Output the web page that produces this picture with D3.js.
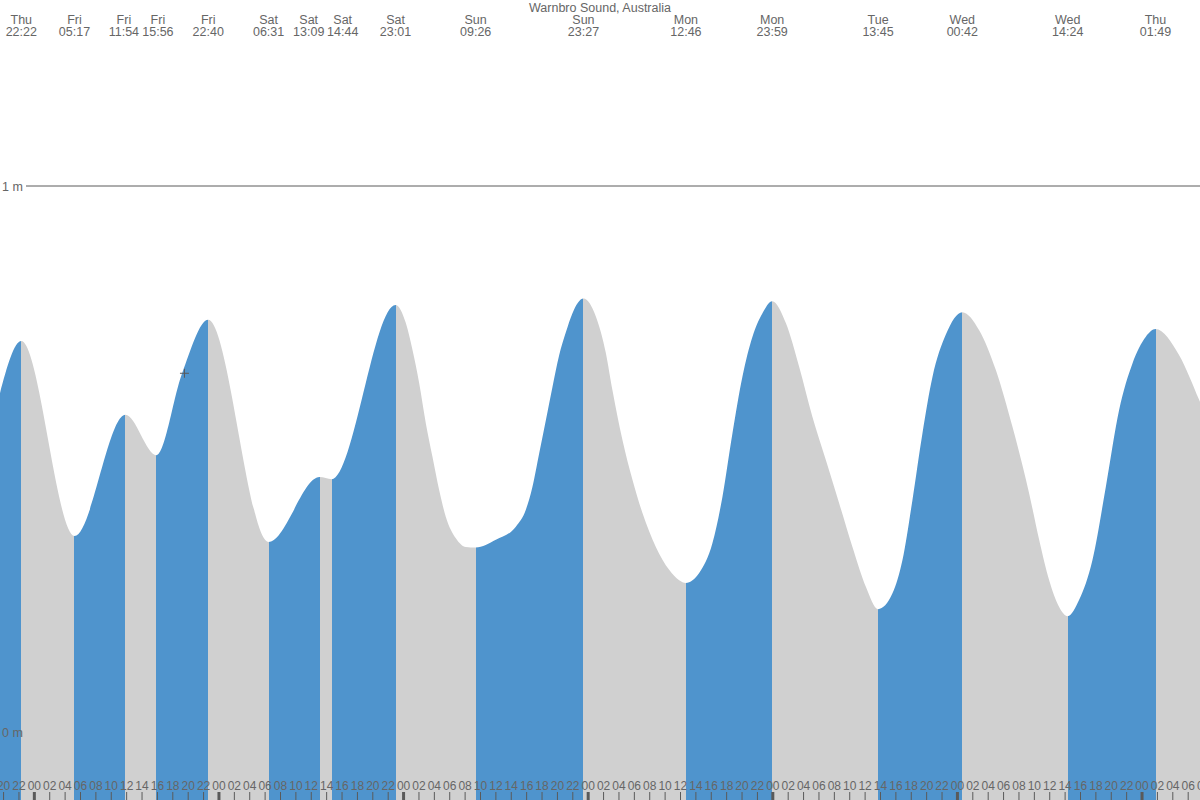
<!DOCTYPE html>
<html><head><meta charset="utf-8">
<script src="https://cdn.jsdelivr.net/npm/d3@7/dist/d3.min.js"></script>
<style>
body{margin:0;background:#fff}
svg{display:block}
text{font-family:"Liberation Sans",Arial,sans-serif}
</style>
</head><body>
<svg id="chart" width="1200" height="800"></svg>
<script>
// ---------- data ----------
const title = "Warnbro Sound, Australia";
// tide extremes: day, local clock time, height (m)
const extremeDays   = ["Thu","Fri","Fri","Fri","Fri","Sat","Sat","Sat","Sat","Sun","Sun","Mon","Mon","Tue","Wed","Wed","Thu"];
const extremeClock  = ["22:22","05:17","11:54","15:56","22:40","06:31","13:09","14:44","23:01","09:26","23:27","12:46","23:59","13:45","00:42","14:24","01:49"];
const extremeHeights= [0.716,0.359,0.581,0.507,0.755,0.348,0.467,0.463,0.782,0.338,0.794,0.273,0.789,0.225,0.769,0.212,0.738];
// intermediate curve samples: hours after Fri 00:00, height (m)
const sampleHours   = [-4.5, 19.28,
  48.36,49.22,50.09,50.96,51.82,52.69,53.56,54.86,56.16,
  60.06,62.66,63.96,64.82,65.69,66.56,67.42,68.29,69.16,70.02,
  73.06,74.36,75.22,76.52,77.82,79.12,80.86,82.59,83.89,
  86.49,88.22,89.52,90.82,92.12,93.42,94.72,
  97.76,99.49,101.22,102.96,104.69,106.42,108.16,
  111.62,112.92,114.22,115.52,116.82,118.56,
  122.89,125.06,127.22,129.39,130.69,131.99,133.29,
  135.89,137.62,139.36,141.09,142.82,144.56,
  148.89,151.5,152.2];
const sampleHeights = [0.615, 0.657,
  0.749,0.700,0.639,0.565,0.504,0.443,0.394,0.355,0.339,
  0.352,0.376,0.407,0.449,0.510,0.571,0.632,0.690,0.732,0.767,
  0.761,0.694,0.626,0.535,0.462,0.401,0.339,0.297,0.278,
  0.291,0.346,0.431,0.547,0.651,0.724,0.767,
  0.749,0.669,0.577,0.498,0.419,0.339,0.266,
  0.254,0.315,0.425,0.547,0.650,0.728,
  0.736,0.663,0.559,0.437,0.352,0.278,0.229,
  0.242,0.315,0.449,0.590,0.675,0.724,
  0.690,0.608,0.585];
const hourDomain = [-4.4, 151.6];      // Thu 19:36 .. Thu 07:36
const yTickValues = [0, 1];
const yTickLabels = ["0 m", "1 m"];
const cursorPoint = {t: 19.58, h: 0.657};

// ---------- layout ----------
const W = 1200, H = 800;
const svg = d3.select("#chart");
const x = d3.scaleLinear().domain(hourDomain).range([0, W]);
const y = d3.scaleLinear().domain([0, 1]).range([732, 186]);
const BLUE = "#4f94cd", GREY = "#d0d0d0", INK = "#5a5a5a";

// compute extreme hours relative to Fri 00:00
let dayIdx = -1, prev = extremeDays[0];
const extremes = extremeDays.map((d, i) => {
  if (d !== prev) { dayIdx++; prev = d; }
  const [hh, mm] = extremeClock[i].split(":").map(Number);
  return {day: d, clock: extremeClock[i], t: dayIdx * 24 + hh + mm / 60, h: extremeHeights[i]};
});
const points = extremes.map(e => ({t: e.t, h: e.h}))
  .concat(sampleHours.map((t, i) => ({t, h: sampleHeights[i]})))
  .sort((a, b) => a.t - b.t);

// 1 m reference line
svg.append("line").attr("x1", 26).attr("x2", W)
  .attr("y1", y(1)).attr("y2", y(1)).attr("stroke", INK).attr("stroke-width", 1);

// area clip
const area = d3.area().x(d => x(d.t)).y0(H).y1(d => y(d.h)).curve(d3.curveMonotoneX);
svg.append("clipPath").attr("id", "tideClip").append("path").attr("d", area(points));

// segments: rising = blue, falling = grey
const bounds = [hourDomain[0] - 1].concat(extremes.map(e => e.t), [hourDomain[1] + 1]);
const segs = d3.pairs(bounds).map(([a, b], i) => {
  let rising;
  if (i === 0) rising = extremes[0].h > points[0].h;
  else if (i < extremes.length) rising = extremes[i].h > extremes[i - 1].h;
  else rising = false;
  return {a, b, rising};
});
svg.append("g").attr("clip-path", "url(#tideClip)")
  .selectAll("rect").data(segs).join("rect")
  .attr("x", d => x(d.a)).attr("width", d => x(d.b) - x(d.a))
  .attr("y", 0).attr("height", H)
  .attr("fill", d => d.rising ? BLUE : GREY)
  .attr("shape-rendering", "crispEdges");

// y labels
svg.append("g").selectAll("text").data(yTickValues).join("text")
  .attr("x", 2).attr("y", d => y(d) + 5)
  .attr("font-size", 12.5).attr("fill", "#666")
  .text((d, i) => yTickLabels[i]);

// bottom hour axis (labels continue just past the right edge)
const hourTicks = d3.range(Math.ceil(hourDomain[0] / 2) * 2, hourDomain[1] + 2, 2);
const pad = v => String(((v % 24) + 24) % 24).padStart(2, "0");
const axis = d3.axisBottom(x).tickValues(hourTicks).tickSize(-8).tickFormat(pad);
const ag = svg.append("g").attr("transform", `translate(0,${H})`).call(axis);
ag.select(".domain").remove();
ag.selectAll(".tick line").attr("stroke", INK)
  .attr("stroke-width", d => (((d % 24) + 24) % 24) === 0 ? 3 : 1);
ag.selectAll(".tick text").attr("y", -10).attr("dy", 0)
  .attr("fill", "#666").attr("font-size", 12)
  .attr("font-family", "'Liberation Sans', Arial, sans-serif");

// top extreme labels, spread apart where they would collide
const minGap = 34;
extremes.forEach(e => e.lx = x(e.t));
for (let i = 1; i < extremes.length; i++) {
  const gap = extremes[i].lx - extremes[i - 1].lx;
  if (gap < minGap) {
    const half = (minGap - gap) / 2;
    extremes[i - 1].lx -= half;
    extremes[i].lx += half;
  }
}
const lab = svg.append("g").attr("fill", "#666").attr("font-size", 12.5).attr("text-anchor", "middle");
lab.selectAll("text.day").data(extremes).join("text").attr("class", "day")
  .attr("x", d => d.lx).attr("y", 24).text(d => d.day);
lab.selectAll("text.clk").data(extremes).join("text").attr("class", "clk")
  .attr("x", d => d.lx).attr("y", 36).text(d => d.clock);

// title
svg.append("text").attr("x", W / 2).attr("y", 12).attr("text-anchor", "middle")
  .attr("font-size", 12.5).attr("fill", "#666").text(title);

// cursor crosshair
const cx = x(cursorPoint.t), cy = y(cursorPoint.h);
svg.append("path").attr("d", `M${cx - 4.5},${cy}H${cx + 4.5}M${cx},${cy - 4.5}V${cy + 4.5}`)
  .attr("stroke", INK).attr("stroke-width", 1).attr("fill", "none");
</script>
</body></html>
